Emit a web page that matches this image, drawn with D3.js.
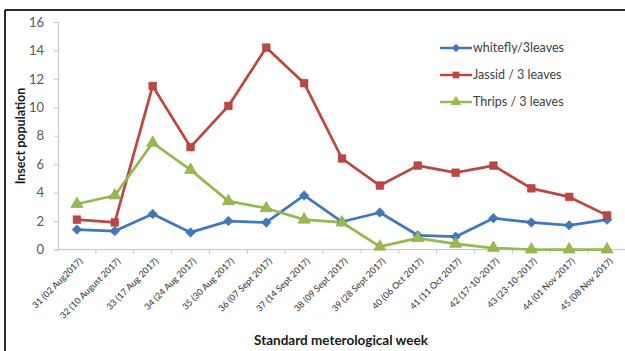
<!DOCTYPE html>
<html>
<head>
<meta charset="utf-8">
<script src="https://cdn.jsdelivr.net/npm/d3@7/dist/d3.min.js"></script>
<style>
  html, body { margin: 0; padding: 0; background: #fff; }
  svg { display: block; }
</style>
</head>
<body>
<script>
// Standard meteorological weeks (x categories)
const weeks = [
  "31 (02 Aug2017)", "32 (10 August 2017)", "33 (17 Aug 2017)", "34 (24 Aug 2017)",
  "35 (30 Aug 2017)", "36 (07 Sept 2017)", "37 (14 Sept 2017)", "38 (09 Sept 2017)",
  "39 (28 Sept 2017)", "40 (06 Oct 2017)", "41 (11 Oct 2017)", "42 (17-10-2017)",
  "43 (23-10-2017)", "44 (01 Nov 2017)", "45 (08 Nov 2017)"
];

// Insect counts per 3 leaves
const whitefly = [1.4, 1.3, 2.5, 1.2, 2.0, 1.9, 3.8, 1.95, 2.6, 1.0, 0.9, 2.2, 1.9, 1.7, 2.1];
const jassid   = [2.1, 1.9, 11.5, 7.2, 10.1, 14.2, 11.7, 6.4, 4.5, 5.9, 5.4, 5.9, 4.3, 3.7, 2.4];
const thrips   = [3.2, 3.8, 7.5, 5.6, 3.4, 2.9, 2.1, 1.9, 0.2, 0.8, 0.4, 0.1, 0.0, 0.0, 0.0];

const yTicks = [0, 2, 4, 6, 8, 10, 12, 14, 16];

const seriesNames = ["whitefly/3leaves", "Jassid / 3 leaves", "Thrips / 3 leaves"];
const seriesColors = ["#3F78BE", "#BE4643", "#97BA50"];
const seriesShapes = [d3.symbolDiamond2, d3.symbolSquare, d3.symbolTriangle];

const series = [whitefly, jassid, thrips].map((values, i) => ({
  name: seriesNames[i], color: seriesColors[i], shape: seriesShapes[i], values
}));

const W = 625, H = 351;
const font = "Lato, 'Open Sans', sans-serif";

const svg = d3.select("body").append("svg")
  .attr("width", W).attr("height", H)
  .style("font-family", font);

// Frame edges
svg.append("line").attr("x1", 5).attr("x2", 5).attr("y1", 10).attr("y2", H)
  .attr("stroke", "#2b2b2b").attr("stroke-width", 2);
svg.append("line").attr("x1", 5).attr("x2", W).attr("y1", 10).attr("y2", 10)
  .attr("stroke", "#2b2b2b").attr("stroke-width", 2);

const x = d3.scaleBand().domain(weeks).range([58, 626]).padding(0);
const y = d3.scaleLinear().domain([0, 16]).range([249.5, 22]);
const cx = d => x(d) + x.bandwidth() / 2;

// Y axis
const yAxis = svg.append("g").attr("transform", "translate(58,0)")
  .call(d3.axisLeft(y).tickValues(yTicks).tickSize(4).tickPadding(10).tickFormat(d3.format("d")));
yAxis.select(".domain").attr("stroke", "#c4c4c4");
yAxis.selectAll(".tick line").attr("stroke", "#c4c4c4");
yAxis.selectAll(".tick text").attr("fill", "#595959")
  .style("font-size", "13px").style("font-family", font);

// X axis: ticks sit at category boundaries
const xAxisG = svg.append("g").attr("transform", `translate(0,${y(0)})`);
xAxisG.append("line").attr("x1", 58).attr("x2", W).attr("y1", 0).attr("y2", 0)
  .attr("stroke", "#c4c4c4");
xAxisG.selectAll("line.tk").data(weeks).join("line").attr("class", "tk")
  .attr("x1", d => x(d) + x.bandwidth()).attr("x2", d => x(d) + x.bandwidth())
  .attr("y1", 0).attr("y2", 4).attr("stroke", "#c4c4c4");
xAxisG.selectAll("text").data(weeks).join("text")
  .attr("transform", d => `translate(${cx(d) + 4},${10}) rotate(-45)`)
  .attr("text-anchor", "end")
  .attr("dy", "0.35em")
  .attr("fill", "#505050")
  .style("font-size", "9px")
  .style("font-weight", "600")
  .text(d => d);

// Axis titles
svg.append("text")
  .attr("x", 341).attr("y", 345)
  .attr("text-anchor", "middle")
  .style("font-size", "13.5px").style("font-weight", "bold").attr("fill", "#1a1a1a")
  .text("Standard meterological week");
svg.append("text")
  .attr("transform", "translate(21,136) rotate(-90)")
  .attr("text-anchor", "middle")
  .attr("dy", "0.35em")
  .style("font-size", "12.5px").style("font-weight", "bold").attr("fill", "#1a1a1a")
  .text("Insect population");

// Lines and markers
const line = d3.line().x((d, i) => cx(weeks[i])).y(d => y(d));
const plot = svg.append("g");
series.forEach(s => {
  plot.append("path").datum(s.values)
    .attr("d", line).attr("fill", "none")
    .attr("stroke", s.color).attr("stroke-width", 2.75)
    .attr("stroke-linejoin", "round");
});
series.forEach(s => {
  const size = s.shape === d3.symbolTriangle ? 64 : 58;
  plot.selectAll(null).data(s.values).join("path")
    .attr("transform", (d, i) => `translate(${cx(weeks[i])},${y(d)})`)
    .attr("d", d3.symbol().type(s.shape).size(size))
    .attr("fill", s.color)
    .attr("stroke", d3.color(s.color).darker(0.3))
    .attr("stroke-width", 0.6);
});

// Legend
const legend = svg.append("g").attr("transform", "translate(440,48)");
series.forEach((s, i) => {
  const g = legend.append("g").attr("transform", `translate(0,${i * 27})`);
  g.append("line").attr("x1", 0).attr("x2", 32).attr("y1", 0).attr("y2", 0)
    .attr("stroke", s.color).attr("stroke-width", 2.5);
  g.append("path").attr("transform", "translate(16,0)")
    .attr("d", d3.symbol().type(s.shape).size(s.shape === d3.symbolTriangle ? 50 : 45))
    .attr("fill", s.color);
  g.append("text").attr("x", 33).attr("y", 0).attr("dy", "0.35em")
    .style("font-size", "12.5px").attr("fill", "#404040")
    .text(s.name);
});
</script>
</body>
</html>
